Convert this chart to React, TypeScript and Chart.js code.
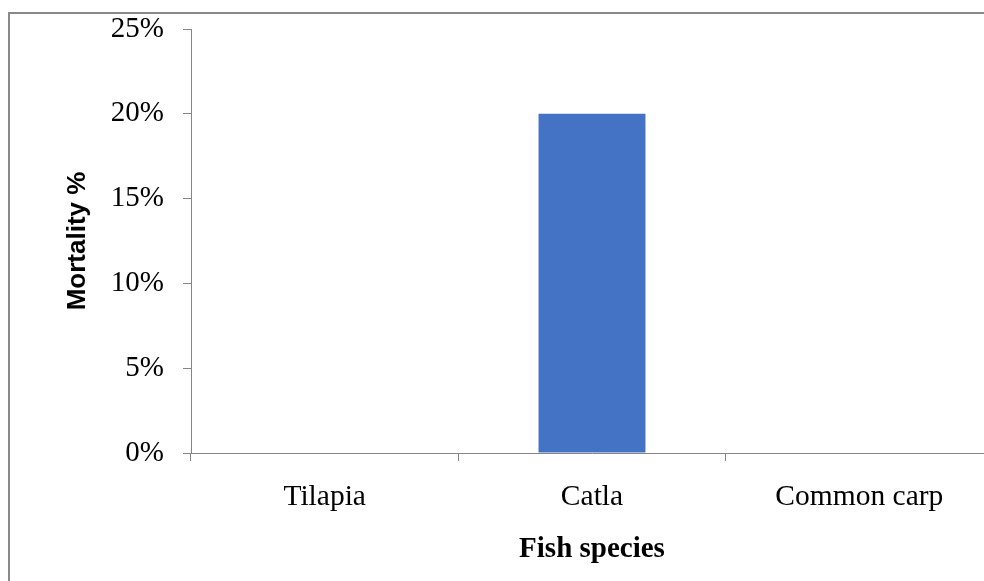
import React, { useEffect, useRef } from "react";
import { Chart, registerables } from "chart.js";

Chart.register(...registerables);

const categories = ["Tilapia", "Catla", "Common carp"];
const mortality = [0, 20, 0];
const yTicksMax = 25;
const yTickStep = 5;
const xTitle = "Fish species";
const yTitle = "Mortality %";

const AXIS = "#868686";

export default function App() {
  const ref = useRef<HTMLCanvasElement | null>(null);

  useEffect(() => {
    if (!ref.current) return;
    const chart = new Chart(ref.current, {
      type: "bar",
      data: {
        labels: categories,
        datasets: [
          {
            data: mortality,
            backgroundColor: "#4472C4",
            borderWidth: 0,
            barPercentage: 1,
            categoryPercentage: 0.4,
          },
        ],
      },
      options: {
        responsive: false,
        animation: false,
        devicePixelRatio: 1,
        layout: { padding: { top: 15, right: 17, bottom: 0, left: 0 } },
        plugins: { legend: { display: false }, tooltip: { enabled: false } },
        scales: {
          x: {
            afterFit: (s: any) => {
              s.height = 128;
              s.paddingLeft = 0;
              s.paddingRight = 0;
            },
            grid: {
              display: true,
              drawOnChartArea: false,
              drawTicks: true,
              tickLength: 8,
              color: AXIS,
              offset: true,
            },
            border: { display: true, color: AXIS, width: 1 },
            ticks: {
              color: "#000",
              padding: 19,
              font: { family: "'Liberation Serif', 'Times New Roman', serif", size: 29.5, lineHeight: 1.2 },
            },
            title: {
              display: true,
              text: xTitle,
              color: "#000",
              padding: { top: 0, bottom: 14 },
              font: { family: "'Liberation Serif', 'Times New Roman', serif", size: 29, weight: "bold", lineHeight: 1.2 },
            },
          },
          y: {
            min: 0,
            max: yTicksMax,
            afterFit: (s: any) => {
              s.width = 181;
              s.paddingTop = 0;
              s.paddingBottom = 0;
            },
            grid: {
              display: true,
              drawOnChartArea: false,
              drawTicks: true,
              tickLength: 8,
              color: AXIS,
            },
            border: { display: true, color: AXIS, width: 1 },
            ticks: {
              stepSize: yTickStep,
              color: "#000",
              padding: 19,
              callback: (v: any) => v + "%",
              font: { family: "'Liberation Serif', 'Times New Roman', serif", size: 29, lineHeight: 1.0 },
            },
            title: {
              display: true,
              text: yTitle,
              color: "#000",
              padding: { top: 52, bottom: 0 },
              font: { family: "'Liberation Sans', Arial, sans-serif", size: 26, weight: "bold", lineHeight: 1.2 },
            },
          },
        },
      },
    });
    return () => chart.destroy();
  }, []);

  return (
    <div
      style={{
        position: "fixed",
        left: 0,
        top: 0,
        width: 984,
        height: 581,
        overflow: "hidden",
        background: "#fff",
      }}
    >
      <div
        style={{
          position: "absolute",
          left: 8,
          top: 12,
          width: 1000,
          height: 567,
          border: "2px solid #898989",
          background: "#fff",
        }}
      >
        <canvas ref={ref} width={1000} height={567} style={{ display: "block", width: 1000, height: 567 }} />
      </div>
    </div>
  );
}
